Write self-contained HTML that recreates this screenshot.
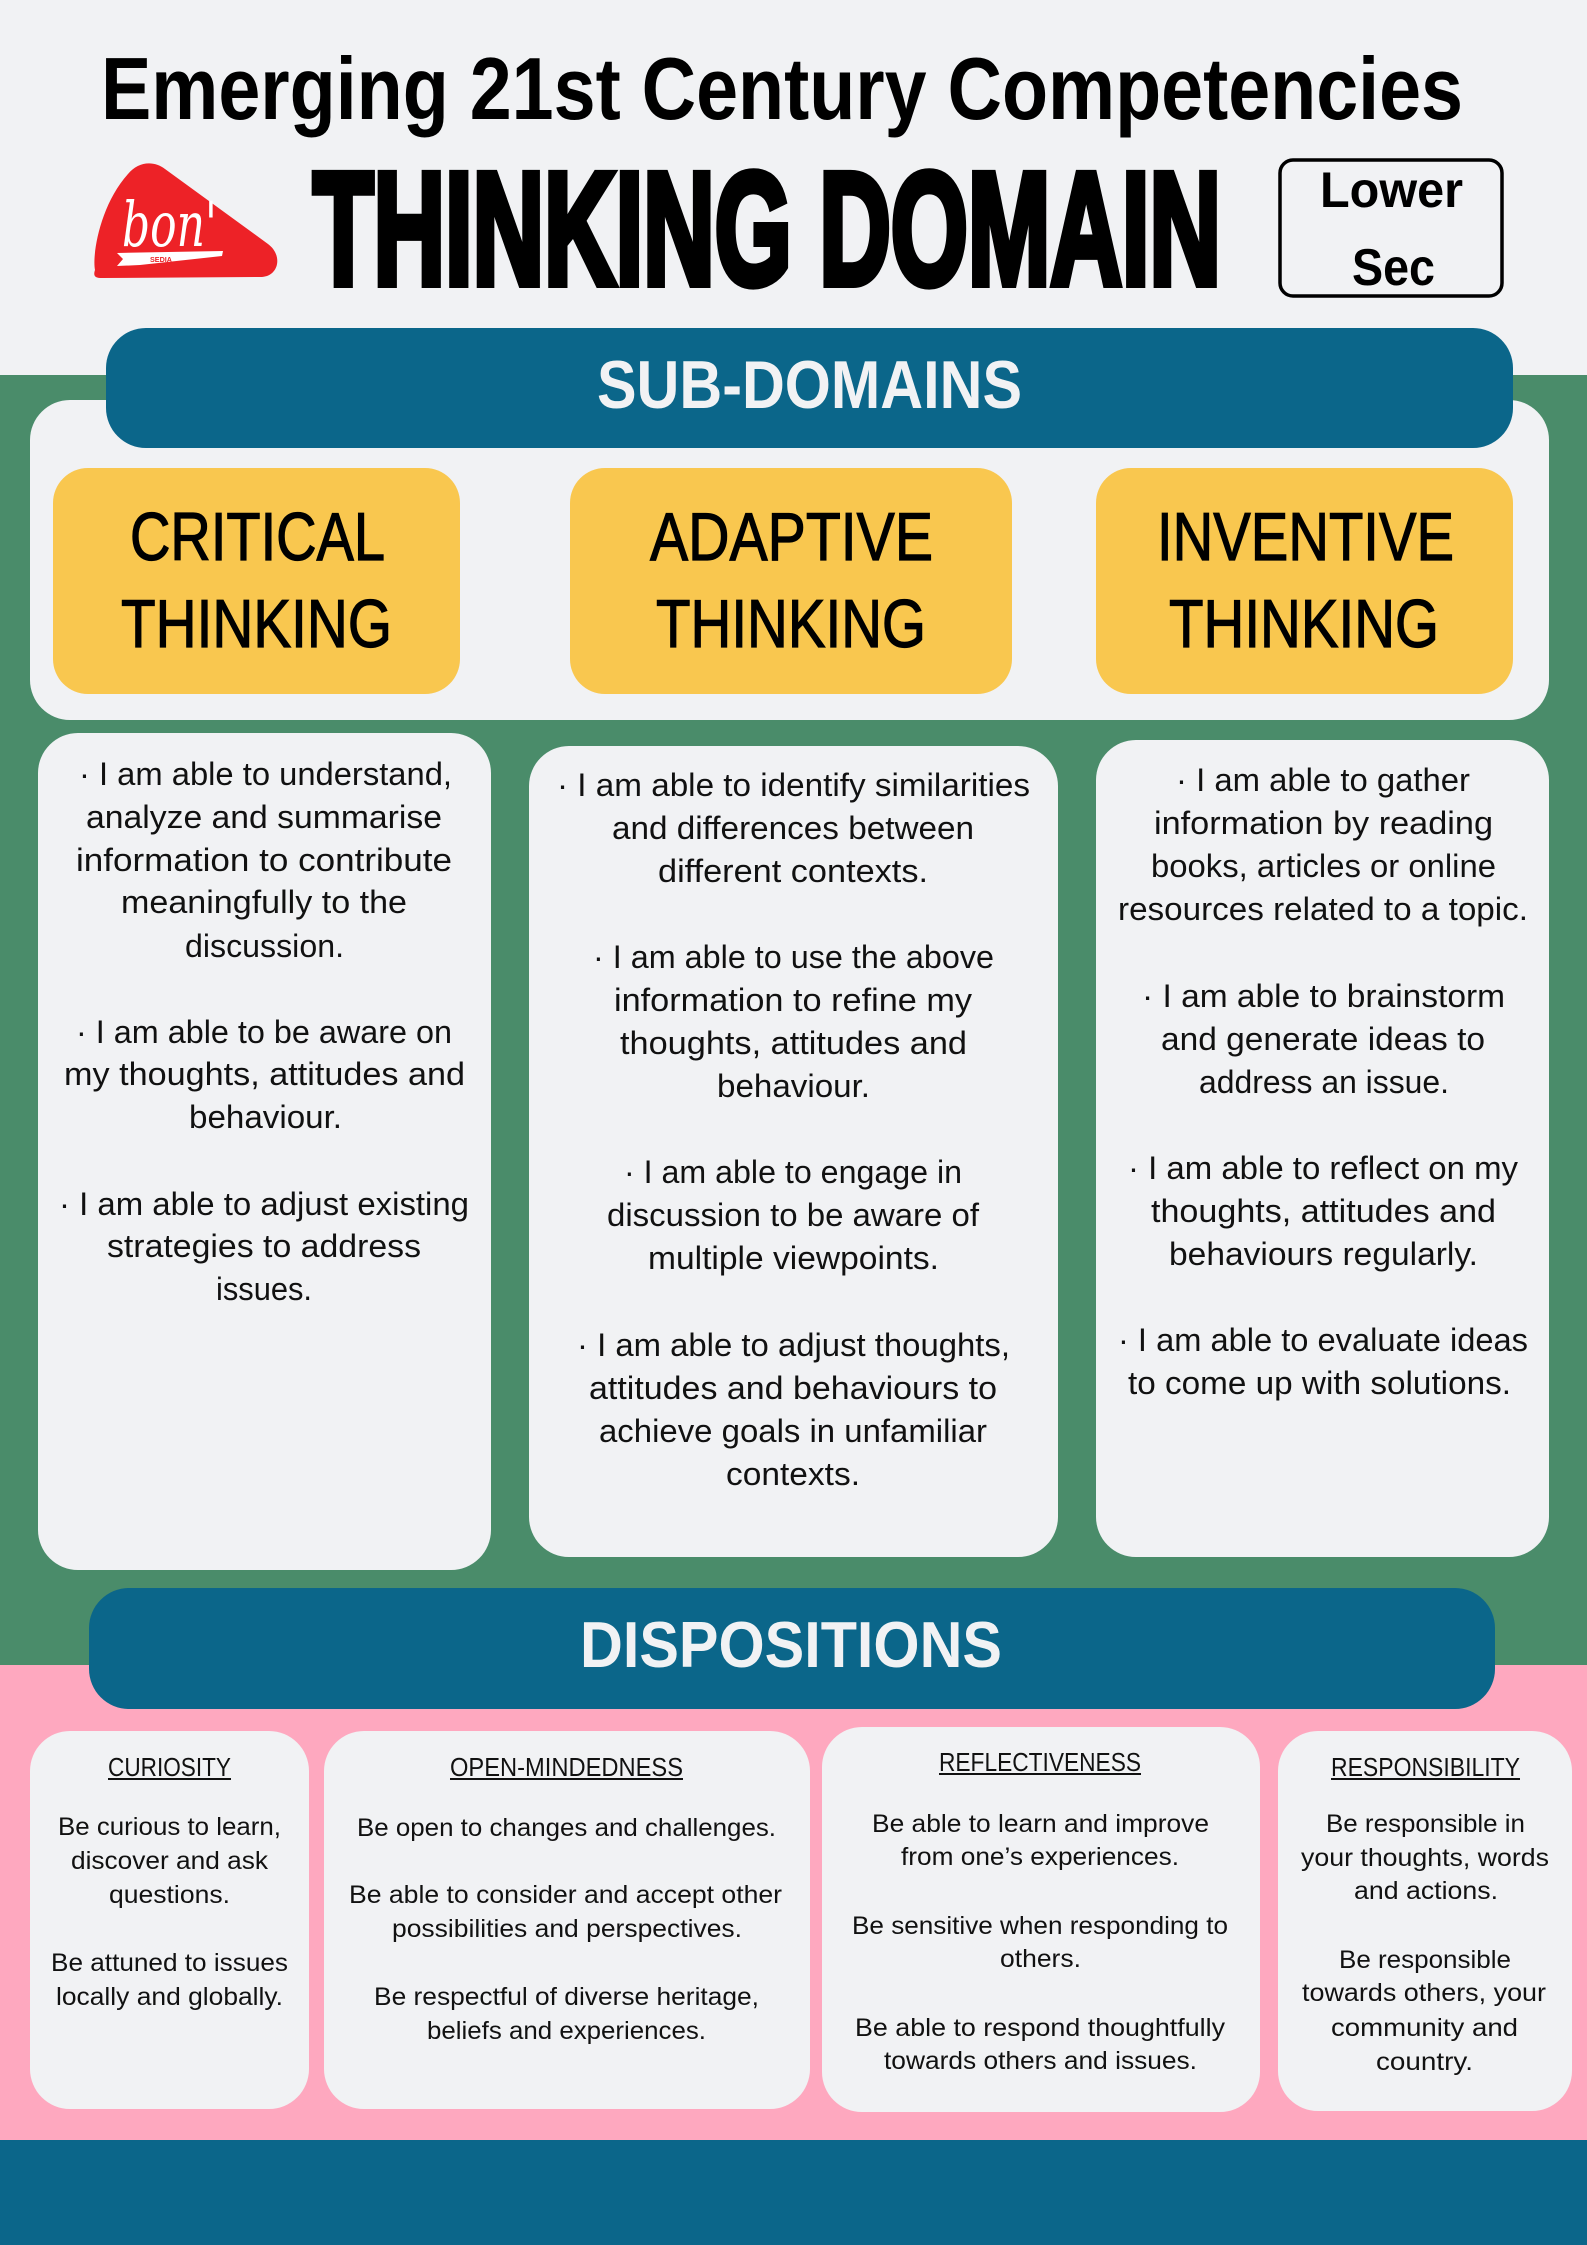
<!DOCTYPE html>
<html><head><meta charset="utf-8"><style>
html,body{margin:0;padding:0;background:#f1f2f4;}
svg{display:block;}
.b{font-family:"Liberation Sans",sans-serif;font-size:32px;fill:#111;}
.d{font-family:"Liberation Sans",sans-serif;font-size:25px;fill:#111;}
.h{font-family:"Liberation Sans",sans-serif;font-size:26px;fill:#111;}
.y{font-family:"Liberation Sans",sans-serif;font-size:68px;fill:#000;stroke:#000;stroke-width:1.2;}
</style></head><body>
<svg width="1587" height="2245" viewBox="0 0 1587 2245" xmlns="http://www.w3.org/2000/svg">
<rect x="0" y="0" width="1587" height="2245" fill="#f1f2f4"/>
<rect x="0" y="375" width="1587" height="1290" fill="#4a8c6a"/>
<rect x="0" y="1665" width="1587" height="475" fill="#fea8bf"/>
<rect x="0" y="2140" width="1587" height="105" fill="#0b668a"/>

<!-- header -->
<text x="101" y="119" font-family="Liberation Sans, sans-serif" font-weight="bold" font-size="88" fill="#000" textLength="1362" lengthAdjust="spacingAndGlyphs">Emerging 21st Century Competencies</text>
<path d="M95 270 C92 255,100 205,128 174 C138 162,153 160,165 169 L268 244 C283 255,279 276,262 277 L102 278 C95 278,93 276,95 270 Z" fill="#ed2227"/>
<text x="122" y="246" font-family="DejaVu Serif, serif" font-style="italic" font-size="62" fill="#fff" textLength="95" lengthAdjust="spacingAndGlyphs">bon'</text>
<path d="M117 253 L223 251 L222 256 L140 265 L117 266 L123 259 Z" fill="#fff"/>
<text x="150" y="262" font-family="Liberation Sans, sans-serif" font-size="7" font-weight="bold" fill="#ed2227" textLength="22" lengthAdjust="spacingAndGlyphs">SEDIA</text>
<text x="313" y="284" font-family="Liberation Sans, sans-serif" font-weight="bold" font-size="160" fill="#000" stroke="#000" stroke-width="8" stroke-linejoin="miter" textLength="908" lengthAdjust="spacingAndGlyphs">THINKING DOMAIN</text>
<rect x="1280" y="160" width="222" height="136" rx="13" fill="none" stroke="#000" stroke-width="3.5"/>
<text x="1320" y="207" font-family="Liberation Sans, sans-serif" font-weight="bold" font-size="50" fill="#000" textLength="143" lengthAdjust="spacingAndGlyphs">Lower</text>
<text x="1352" y="285" font-family="Liberation Sans, sans-serif" font-weight="bold" font-size="52" fill="#000" textLength="83" lengthAdjust="spacingAndGlyphs">Sec</text>

<!-- sub-domains panel -->
<rect x="30" y="400" width="1519" height="320" rx="40" fill="#f1f2f4"/>
<rect x="106" y="328" width="1407" height="120" rx="40" fill="#0b668a"/>
<text x="597" y="408" font-family="Liberation Sans, sans-serif" font-weight="bold" font-size="68" fill="#f1f2f4" textLength="425" lengthAdjust="spacingAndGlyphs">SUB-DOMAINS</text>

<rect x="53" y="468" width="407" height="226" rx="35" fill="#f9c74f"/>
<rect x="570" y="468" width="442" height="226" rx="35" fill="#f9c74f"/>
<rect x="1096" y="468" width="417" height="226" rx="35" fill="#f9c74f"/>
<text class="y" x="130" y="560" textLength="255" lengthAdjust="spacingAndGlyphs">CRITICAL</text>
<text class="y" x="121" y="647" textLength="271" lengthAdjust="spacingAndGlyphs">THINKING</text>
<text class="y" x="650" y="560" textLength="283" lengthAdjust="spacingAndGlyphs">ADAPTIVE</text>
<text class="y" x="656" y="647" textLength="270" lengthAdjust="spacingAndGlyphs">THINKING</text>
<text class="y" x="1157" y="560" textLength="297" lengthAdjust="spacingAndGlyphs">INVENTIVE</text>
<text class="y" x="1169" y="647" textLength="270" lengthAdjust="spacingAndGlyphs">THINKING</text>

<!-- sub-domain cards -->
<rect x="38" y="733" width="453" height="837" rx="40" fill="#f1f2f4"/>
<rect x="529" y="746" width="529" height="811" rx="40" fill="#f1f2f4"/>
<rect x="1096" y="740" width="453" height="817" rx="40" fill="#f1f2f4"/>

<g class="b">
<text x="79" y="785" textLength="373" lengthAdjust="spacingAndGlyphs">· I am able to understand,</text>
<text x="86" y="828" textLength="356" lengthAdjust="spacingAndGlyphs">analyze  and summarise</text>
<text x="76" y="871" textLength="376" lengthAdjust="spacingAndGlyphs">information to contribute</text>
<text x="121" y="913" textLength="286" lengthAdjust="spacingAndGlyphs">meaningfully to the</text>
<text x="185" y="957" textLength="159" lengthAdjust="spacingAndGlyphs">discussion.</text>
<text x="76" y="1043" textLength="376" lengthAdjust="spacingAndGlyphs">· I am able to be aware on</text>
<text x="64" y="1085" textLength="401" lengthAdjust="spacingAndGlyphs">my thoughts, attitudes and</text>
<text x="189" y="1128" textLength="153" lengthAdjust="spacingAndGlyphs">behaviour.</text>
<text x="59" y="1215" textLength="410" lengthAdjust="spacingAndGlyphs">· I am able to adjust existing</text>
<text x="107" y="1257" textLength="314" lengthAdjust="spacingAndGlyphs">strategies to address</text>
<text x="216" y="1300" textLength="96" lengthAdjust="spacingAndGlyphs">issues.</text>

<text x="557" y="796" textLength="473" lengthAdjust="spacingAndGlyphs">· I am able to identify similarities</text>
<text x="612" y="839" textLength="362" lengthAdjust="spacingAndGlyphs">and differences between</text>
<text x="658" y="882" textLength="270" lengthAdjust="spacingAndGlyphs">different contexts.</text>
<text x="593" y="968" textLength="401" lengthAdjust="spacingAndGlyphs">· I am able to use the above</text>
<text x="614" y="1011" textLength="358" lengthAdjust="spacingAndGlyphs">information to refine my</text>
<text x="620" y="1054" textLength="347" lengthAdjust="spacingAndGlyphs">thoughts, attitudes and</text>
<text x="717" y="1097" textLength="153" lengthAdjust="spacingAndGlyphs">behaviour.</text>
<text x="624" y="1183" textLength="338" lengthAdjust="spacingAndGlyphs">· I am able to engage in</text>
<text x="607" y="1226" textLength="372" lengthAdjust="spacingAndGlyphs">discussion to be aware of</text>
<text x="648" y="1269" textLength="291" lengthAdjust="spacingAndGlyphs">multiple viewpoints.</text>
<text x="577" y="1356" textLength="433" lengthAdjust="spacingAndGlyphs">· I am able to adjust thoughts,</text>
<text x="589" y="1399" textLength="408" lengthAdjust="spacingAndGlyphs">attitudes and behaviours to</text>
<text x="599" y="1442" textLength="388" lengthAdjust="spacingAndGlyphs">achieve goals in unfamiliar</text>
<text x="726" y="1485" textLength="134" lengthAdjust="spacingAndGlyphs">contexts.</text>

<text x="1176" y="791" textLength="294" lengthAdjust="spacingAndGlyphs">· I am able to gather</text>
<text x="1154" y="834" textLength="339" lengthAdjust="spacingAndGlyphs">information by reading</text>
<text x="1151" y="877" textLength="345" lengthAdjust="spacingAndGlyphs">books, articles or online</text>
<text x="1118" y="920" textLength="410" lengthAdjust="spacingAndGlyphs">resources related to a topic.</text>
<text x="1142" y="1007" textLength="363" lengthAdjust="spacingAndGlyphs">· I am able to brainstorm</text>
<text x="1161" y="1050" textLength="324" lengthAdjust="spacingAndGlyphs">and generate ideas to</text>
<text x="1199" y="1093" textLength="250" lengthAdjust="spacingAndGlyphs">address an issue.</text>
<text x="1128" y="1179" textLength="390" lengthAdjust="spacingAndGlyphs">· I am able to reflect on my</text>
<text x="1151" y="1222" textLength="345" lengthAdjust="spacingAndGlyphs">thoughts, attitudes and</text>
<text x="1169" y="1265" textLength="309" lengthAdjust="spacingAndGlyphs">behaviours regularly.</text>
<text x="1118" y="1351" textLength="410" lengthAdjust="spacingAndGlyphs">· I am able to evaluate ideas</text>
<text x="1128" y="1394" textLength="383" lengthAdjust="spacingAndGlyphs">to come up with solutions.</text>
</g>

<!-- dispositions -->
<rect x="89" y="1588" width="1406" height="121" rx="40" fill="#0b668a"/>
<text x="580" y="1667" font-family="Liberation Sans, sans-serif" font-weight="bold" font-size="65" fill="#f1f2f4" textLength="422" lengthAdjust="spacingAndGlyphs">DISPOSITIONS</text>

<rect x="30" y="1731" width="279" height="378" rx="40" fill="#f1f2f4"/>
<rect x="324" y="1731" width="486" height="378" rx="40" fill="#f1f2f4"/>
<rect x="822" y="1727" width="438" height="385" rx="40" fill="#f1f2f4"/>
<rect x="1278" y="1731" width="294" height="380" rx="40" fill="#f1f2f4"/>

<g class="h">
<text x="108" y="1776" textLength="123" lengthAdjust="spacingAndGlyphs">CURIOSITY</text>
<text x="450" y="1776" textLength="233" lengthAdjust="spacingAndGlyphs">OPEN-MINDEDNESS</text>
<text x="939" y="1771" textLength="202" lengthAdjust="spacingAndGlyphs">REFLECTIVENESS</text>
<text x="1331" y="1776" textLength="189" lengthAdjust="spacingAndGlyphs">RESPONSIBILITY</text>
</g>
<g fill="#111">
<rect x="108" y="1778" width="123" height="2"/>
<rect x="450" y="1778" width="233" height="2"/>
<rect x="939" y="1773" width="202" height="2"/>
<rect x="1331" y="1778" width="189" height="2"/>
</g>

<g class="d">
<text x="58" y="1835" textLength="223" lengthAdjust="spacingAndGlyphs">Be curious to learn,</text>
<text x="71" y="1869" textLength="197" lengthAdjust="spacingAndGlyphs">discover and ask</text>
<text x="109" y="1903" textLength="121" lengthAdjust="spacingAndGlyphs">questions.</text>
<text x="51" y="1971" textLength="237" lengthAdjust="spacingAndGlyphs">Be attuned to issues</text>
<text x="56" y="2005" textLength="227" lengthAdjust="spacingAndGlyphs">locally and globally.</text>

<text x="357" y="1836" textLength="419" lengthAdjust="spacingAndGlyphs">Be open to changes and challenges.</text>
<text x="349" y="1903" textLength="433" lengthAdjust="spacingAndGlyphs">Be able to consider and accept other</text>
<text x="392" y="1937" textLength="350" lengthAdjust="spacingAndGlyphs">possibilities and perspectives.</text>
<text x="374" y="2005" textLength="385" lengthAdjust="spacingAndGlyphs">Be respectful of diverse heritage,</text>
<text x="427" y="2039" textLength="279" lengthAdjust="spacingAndGlyphs">beliefs and experiences.</text>

<text x="872" y="1832" textLength="337" lengthAdjust="spacingAndGlyphs">Be able to learn and improve</text>
<text x="901" y="1865" textLength="278" lengthAdjust="spacingAndGlyphs">from one’s experiences.</text>
<text x="852" y="1934" textLength="376" lengthAdjust="spacingAndGlyphs">Be sensitive when responding to</text>
<text x="1000" y="1967" textLength="81" lengthAdjust="spacingAndGlyphs">others.</text>
<text x="855" y="2036" textLength="370" lengthAdjust="spacingAndGlyphs">Be able to respond thoughtfully</text>
<text x="884" y="2069" textLength="313" lengthAdjust="spacingAndGlyphs">towards others and issues.</text>

<text x="1326" y="1832" textLength="199" lengthAdjust="spacingAndGlyphs">Be responsible in</text>
<text x="1301" y="1866" textLength="248" lengthAdjust="spacingAndGlyphs">your thoughts, words</text>
<text x="1354" y="1899" textLength="144" lengthAdjust="spacingAndGlyphs">and actions.</text>
<text x="1339" y="1968" textLength="172" lengthAdjust="spacingAndGlyphs">Be responsible</text>
<text x="1302" y="2001" textLength="244" lengthAdjust="spacingAndGlyphs">towards others, your</text>
<text x="1331" y="2036" textLength="187" lengthAdjust="spacingAndGlyphs">community and</text>
<text x="1376" y="2070" textLength="97" lengthAdjust="spacingAndGlyphs">country.</text>
</g>
</svg>
</body></html>
